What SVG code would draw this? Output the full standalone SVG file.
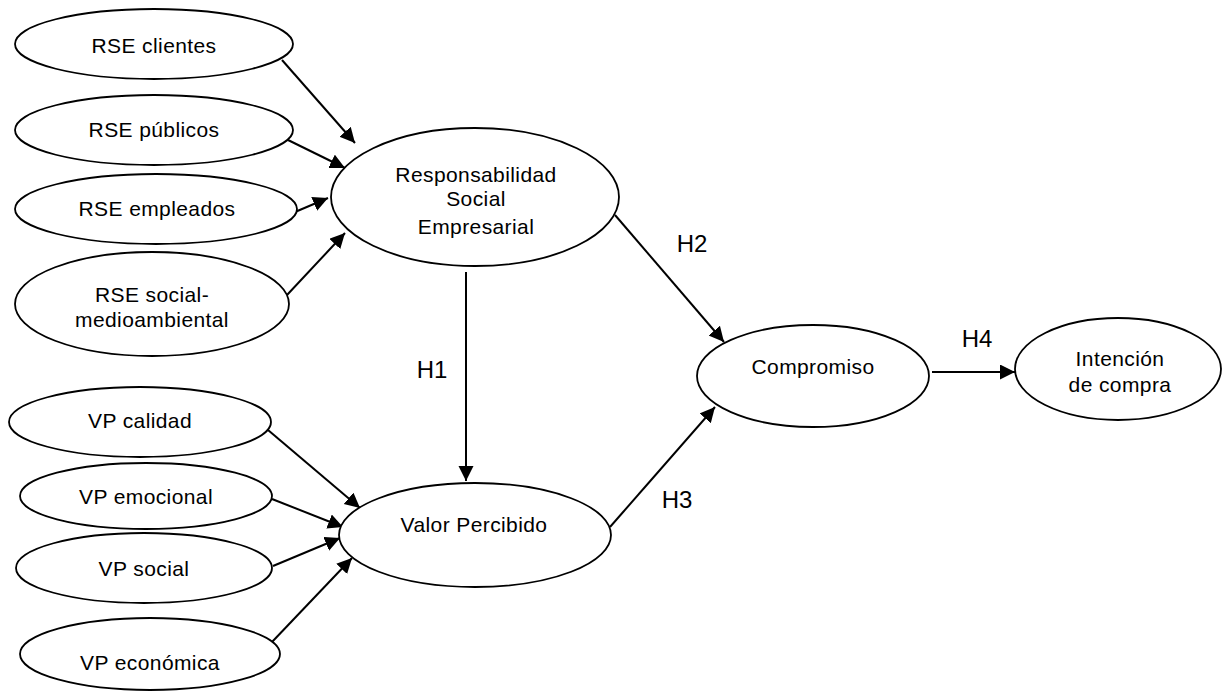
<svg xmlns="http://www.w3.org/2000/svg" width="1223" height="693" viewBox="0 0 1223 693">
<style>
.n ellipse{fill:#fff;stroke:#000;stroke-width:1.8}
.n text{font-family:"Liberation Sans",Arial,sans-serif;font-size:21px;fill:#000;text-anchor:middle;letter-spacing:0.4px}
.lbl{font-family:"Liberation Sans",Arial,sans-serif;font-size:24px;fill:#000;text-anchor:middle}
.c line{stroke:#000;stroke-width:2;marker-end:url(#ah)}
</style>
<defs>
<marker id="ah" markerUnits="userSpaceOnUse" markerWidth="17" markerHeight="16" refX="15" refY="7.5" orient="auto">
<path d="M0,0 L15,7.5 L0,15 z" fill="#000"/>
</marker>
</defs>
<rect width="1223" height="693" fill="#fff"/>
<g id="connectors" class="c">
<line x1="282" y1="60" x2="355" y2="143"/>
<line x1="288" y1="140" x2="345" y2="168"/>
<line x1="295" y1="212" x2="328" y2="198"/>
<line x1="287" y1="295" x2="345" y2="233"/>
<line x1="268" y1="430" x2="360" y2="508"/>
<line x1="272" y1="499" x2="343" y2="527"/>
<line x1="273" y1="566" x2="340" y2="538"/>
<line x1="272" y1="642" x2="352" y2="558"/>
<line x1="466" y1="272" x2="466" y2="481"/>
<line x1="615" y1="215" x2="724" y2="342"/>
<line x1="610" y1="527" x2="715" y2="407"/>
<line x1="932" y1="372" x2="1015" y2="372"/>
</g>
<g id="labels">
<text class="lbl" x="432" y="378">H1</text>
<text class="lbl" x="692" y="252">H2</text>
<text class="lbl" x="677" y="508">H3</text>
<text class="lbl" x="977" y="347">H4</text>
</g>
<g id="rse-clientes" class="n"><ellipse cx="154" cy="44" rx="139" ry="35"/><text x="154" y="53">RSE clientes</text></g>
<g id="rse-publicos" class="n"><ellipse cx="154" cy="130" rx="139" ry="35"/><text x="154" y="137">RSE públicos</text></g>
<g id="rse-empleados" class="n"><ellipse cx="156" cy="209" rx="141" ry="35"/><text x="157" y="216">RSE empleados</text></g>
<g id="rse-social" class="n"><ellipse cx="152" cy="304" rx="137" ry="52"/><text x="152" y="302">RSE social-</text><text x="152" y="327">medioambiental</text></g>
<g id="vp-calidad" class="n"><ellipse cx="140" cy="422" rx="131" ry="35"/><text x="140" y="428">VP calidad</text></g>
<g id="vp-emocional" class="n"><ellipse cx="146" cy="496" rx="126" ry="33"/><text x="146" y="504">VP emocional</text></g>
<g id="vp-social" class="n"><ellipse cx="144" cy="568" rx="128" ry="35"/><text x="144" y="576">VP social</text></g>
<g id="vp-economica" class="n"><ellipse cx="150" cy="654" rx="130" ry="36"/><text x="150" y="670">VP económica</text></g>
<g id="rse" class="n"><ellipse cx="475" cy="197" rx="144" ry="69"/><text x="476" y="182">Responsabilidad</text><text x="476" y="206">Social</text><text x="476" y="234">Empresarial</text></g>
<g id="valor-percibido" class="n"><ellipse cx="475" cy="535" rx="136" ry="52"/><text x="474" y="532">Valor Percibido</text></g>
<g id="compromiso" class="n"><ellipse cx="813" cy="376" rx="116" ry="51"/><text x="813" y="374">Compromiso</text></g>
<g id="intencion" class="n"><ellipse cx="1118" cy="369" rx="103" ry="51"/><text x="1120" y="366">Intención</text><text x="1120" y="392">de compra</text></g>
</svg>
